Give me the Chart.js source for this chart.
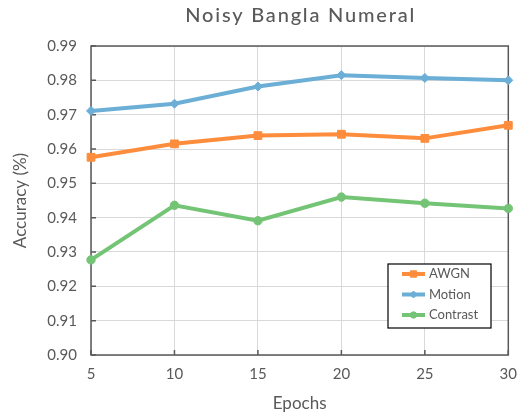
<!DOCTYPE html>
<html>
<head>
<meta charset="utf-8">
<script src="https://cdn.jsdelivr.net/npm/chart.js@4"></script>
<style>
  html, body { margin: 0; padding: 0; background: #fff; }
  #wrap { width: 527px; height: 420px; }
</style>
</head>
<body>
<div id="wrap"><canvas id="chart" width="527" height="420"></canvas></div>
<script>
// Datos
const epochs = ['5', '10', '15', '20', '25', '30'];
const awgn = [0.9576, 0.9615, 0.9639, 0.9643, 0.9631, 0.9669];
const motion = [0.9711, 0.9732, 0.9782, 0.9815, 0.9807, 0.9800];
const contrast = [0.9277, 0.9436, 0.9391, 0.9460, 0.9442, 0.9427];

const textColor = '#595959';
const fontFamily = 'Lato, "Open Sans", sans-serif';

// marco, marcas interiores, título y leyenda
const decorPlugin = {
    id: 'decor',
    beforeDatasetsDraw(chart) {
        const ctx = chart.ctx;
        const a = chart.chartArea;
        const xs = chart.scales.x;
        const ys = chart.scales.y;
        ctx.save();
        ctx.strokeStyle = '#595959';
        ctx.lineWidth = 1.5;
        ctx.strokeRect(a.left, a.top, a.right - a.left, a.bottom - a.top);
        ctx.beginPath();
        ys.ticks.forEach((t, i) => {
            const y = ys.getPixelForTick(i);
            ctx.moveTo(a.left, y);
            ctx.lineTo(a.left + 5, y);
        });
        xs.ticks.forEach((t, i) => {
            const x = xs.getPixelForTick(i);
            ctx.moveTo(x, a.bottom);
            ctx.lineTo(x, a.bottom - 5);
        });
        ctx.stroke();
        ctx.restore();
    },
    afterDraw(chart) {
        const ctx = chart.ctx;
        const a = chart.chartArea;
        ctx.save();
        // título
        ctx.fillStyle = textColor;
        ctx.font = '500 20px ' + fontFamily;
        ctx.letterSpacing = '1.8px';
        ctx.textAlign = 'center';
        ctx.textBaseline = 'middle';
        ctx.fillText('Noisy Bangla Numeral', (a.left + a.right) / 2 + 1, 16);
        ctx.letterSpacing = '0px';

        // leyenda
        const bx = 388, by = 264, bw = 103, bh = 64;
        ctx.fillStyle = '#fff';
        ctx.fillRect(bx, by, bw, bh);
        ctx.strokeStyle = '#000';
        ctx.lineWidth = 1.2;
        ctx.strokeRect(bx, by, bw, bh);
        ctx.font = '13px ' + fontFamily;
        ctx.textAlign = 'left';
        chart.data.datasets.forEach((ds, i) => {
            const y = by + 10 + i * 20.5;
            ctx.strokeStyle = ds.borderColor;
            ctx.lineWidth = 4;
            ctx.beginPath();
            ctx.moveTo(bx + 14, y);
            ctx.lineTo(bx + 37, y);
            ctx.stroke();
            ctx.fillStyle = ds.backgroundColor;
            ctx.lineWidth = 1;
            Chart.helpers.drawPoint(ctx, {
                pointStyle: ds.pointStyle,
                radius: ds.pointRadius - 1,
                borderWidth: 1
            }, bx + 25.5, y);
            ctx.fillStyle = textColor;
            ctx.fillText(ds.label, bx + 41, y);
        });
        ctx.restore();
    }
};

new Chart(document.getElementById('chart'), {
    type: 'line',
    data: {
        labels: epochs,
        datasets: [
            {
                label: 'AWGN',
                data: awgn,
                borderColor: '#fd8d3c',
                backgroundColor: '#fd8d3c',
                pointStyle: 'rect',
                pointRadius: 5.5,
                pointBorderWidth: 1,
                borderWidth: 4,
                tension: 0
            },
            {
                label: 'Motion',
                data: motion,
                borderColor: '#6baed6',
                backgroundColor: '#6baed6',
                pointStyle: 'rectRot',
                pointRadius: 4.5,
                pointBorderWidth: 1,
                borderWidth: 4,
                tension: 0
            },
            {
                label: 'Contrast',
                data: contrast,
                borderColor: '#74c476',
                backgroundColor: '#74c476',
                pointStyle: 'circle',
                pointRadius: 4.2,
                pointBorderWidth: 1,
                borderWidth: 4,
                tension: 0
            }
        ]
    },
    options: {
        responsive: false,
        animation: false,
        devicePixelRatio: 1,
        layout: { padding: { top: 46, right: 8, left: 0, bottom: 0 } },
        plugins: {
            legend: { display: false },
            title: { display: false },
            tooltip: { enabled: false }
        },
        scales: {
            x: {
                offset: false,
                afterFit(scale) { scale.height = 65; },
                grid: { color: '#d9d9d9', drawTicks: false, lineWidth: 1 },
                border: { display: false },
                ticks: {
                    color: textColor,
                    font: { family: fontFamily, size: 15 },
                    padding: 10,
                    maxRotation: 0
                },
                title: {
                    display: true,
                    text: 'Epochs',
                    color: textColor,
                    font: { family: fontFamily, size: 17 },
                    padding: { top: 0, bottom: 6 }
                }
            },
            y: {
                min: 0.90,
                max: 0.99,
                afterFit(scale) { scale.width = 91; },
                grid: { color: '#d9d9d9', drawTicks: false, lineWidth: 1 },
                border: { display: false },
                ticks: {
                    stepSize: 0.01,
                    color: textColor,
                    font: { family: fontFamily, size: 15 },
                    padding: 14,
                    callback: v => v.toFixed(2)
                },
                title: {
                    display: true,
                    text: 'Accuracy (%)',
                    color: textColor,
                    font: { family: fontFamily, size: 17 },
                    padding: { top: 10, bottom: 0 }
                }
            }
        }
    },
    plugins: [decorPlugin]
});
</script>
</body>
</html>
